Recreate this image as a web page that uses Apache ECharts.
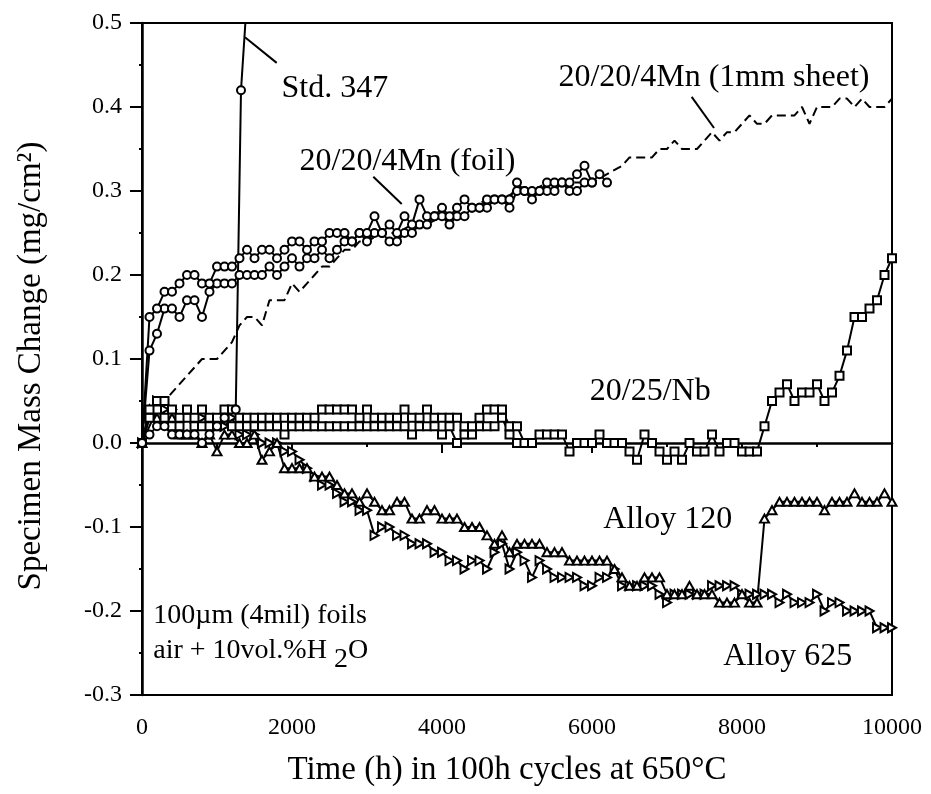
<!DOCTYPE html>
<html><head><meta charset="utf-8">
<script src="https://cdn.jsdelivr.net/npm/echarts@6/dist/echarts.min.js"></script>
<style>html,body{margin:0;padding:0;background:#fff}#c{width:931px;height:794px}</style>
</head><body><div id="c"></div>
<script>
// ---------- DATA ----------
const hours = [0,100,200,300,400,500,600,700,800,900,1000,1100,1200,1300,1400,1500,1600,1700,1800,1900,
2000,2100,2200,2300,2400,2500,2600,2700,2800,2900,3000,3100,3200,3300,3400,3500,3600,3700,3800,3900,
4000,4100,4200,4300,4400,4500,4600,4700,4800,4900,5000,5100,5200,5300,5400,5500,5600,5700,5800,5900,
6000,6100,6200,6300,6400,6500,6600,6700,6800,6900,7000,7100,7200,7300,7400,7500,7600,7700,7800,7900,
8000,8100,8200,8300,8400,8500,8600,8700,8800,8900,9000,9100,9200,9300,9400,9500,9600,9700,9800,9900,10000];

const std347Hours = [0,100,200,300,400,500,600,700,800,900,1000,1100,1250,1320,1400];
const std347 = [0,0.01,0.02,0.02,0.01,0.01,0.01,0.01,0.00,0.01,0.02,0.03,0.04,0.42,0.53];

const foilA = [0,0.15,0.16,0.18,0.18,0.19,0.20,0.20,0.19,0.19,0.21,0.21,0.21,0.22,0.23,0.22,0.23,0.23,0.22,0.23,
0.24,0.24,0.23,0.24,0.24,0.25,0.25,0.25,0.24,0.25,0.25,0.27,0.25,0.26,0.25,0.27,0.26,0.29,0.27,0.27,
0.28,0.27,0.28,0.29,0.28,0.28,0.29,0.29,0.29,0.29,0.31,0.30,0.30,0.30,0.31,0.31,0.31,0.31,0.32,0.33,
0.31,0.32,0.31];
const foilB = [0,0.11,0.13,0.16,0.16,0.15,0.17,0.17,0.15,0.18,0.19,0.19,0.19,0.20,0.20,0.20,0.20,0.21,0.20,0.21,
0.22,0.21,0.22,0.22,0.23,0.22,0.23,0.24,0.24,0.25,0.24,0.25,0.25,0.24,0.24,0.25,0.25,0.26,0.26,0.27,
0.27,0.26,0.27,0.27,0.28,0.28,0.28,0.29,0.29,0.28,0.30,0.30,0.29,0.30,0.30,0.30,0.31,0.30,0.30,0.31,0.31];

const sheetHours = [0,200,300,400,500,600,700,800,900,1000,1100,1200,1300,1400,1500,1600,1700,1800,1900,2000,
2100,2200,2300,2400,2500,2600,2700,2800,2900,3000,3200,3400,3600,3800,4000,4200,4400,4600,4800,5000,
5200,5400,5600,5800,6000,6200,6400,6500,6600,6800,6900,7000,7100,7200,7300,7400,7500,7600,7700,7800,
7900,8000,8100,8200,8300,8400,8500,8600,8700,8800,8900,9000,9100,9200,9300,9400,9500,9600,9700,9800,9900,10000];
const sheet = [0,0.04,0.05,0.06,0.07,0.08,0.09,0.10,0.10,0.10,0.11,0.12,0.14,0.15,0.15,0.14,0.17,0.17,0.17,0.19,
0.18,0.19,0.20,0.21,0.21,0.22,0.23,0.23,0.24,0.24,0.25,0.25,0.26,0.26,0.27,0.27,0.28,0.29,0.29,0.30,
0.30,0.31,0.31,0.31,0.31,0.32,0.33,0.34,0.34,0.34,0.35,0.35,0.36,0.35,0.35,0.35,0.36,0.37,0.36,0.37,
0.37,0.38,0.39,0.38,0.38,0.39,0.39,0.39,0.39,0.40,0.38,0.40,0.40,0.40,0.41,0.41,0.40,0.41,0.40,0.40,0.40,0.41];

const nbA = [0,0.04,0.05,0.05,0.04,0.03,0.04,0.03,0.04,0.03,0.03,0.04,0.04,0.03,0.03,0.03,0.03,0.03,0.03,0.03,
0.03,0.03,0.03,0.03,0.04,0.04,0.04,0.04,0.04,0.03,0.04,0.03,0.03,0.03,0.03,0.04,0.03,0.03,0.04,0.03,
0.03,0.03,0.03,0.02,0.02,0.03,0.04,0.04,0.04,0.02,0.02,0.00,0.00,0.01,0.01,0.01,0.01,-0.01,0.00,0.00,
0.00,0.01,0.00,0.00,0.00,-0.01,-0.02,0.01,0.00,-0.01,-0.02,-0.01,-0.02,0.00,-0.01,-0.01,0.01,-0.01,0.00,0.00,
-0.01,-0.01,-0.01,0.02,0.05,0.06,0.07,0.05,0.06,0.06,0.07,0.05,0.06,0.08,0.11,0.15,0.15,0.16,0.17,0.20,0.22];
const nbB = [0,0.03,0.04,0.03,0.02,0.02,0.03,0.02,0.02,0.02,0.02,0.03,0.02,0.02,0.02,0.02,0.02,0.02,0.02,0.01,
0.02,0.02,0.02,0.02,0.02,0.02,0.02,0.02,0.02,0.02,0.02,0.02,0.02,0.02,0.02,0.02,0.01,0.02,0.02,0.02,
0.01,0.02,0.00,0.01,0.01,0.02,0.02,0.02,0.03,0.01,0.00];

const alloy120 = [0,0.04,0.03,0.03,0.03,0.01,0.01,0.01,0.00,0.01,-0.01,0.01,0.01,0.00,0.00,0.01,-0.02,-0.01,0.00,-0.03,
-0.03,-0.03,-0.03,-0.04,-0.04,-0.04,-0.05,-0.06,-0.06,-0.07,-0.06,-0.07,-0.08,-0.08,-0.07,-0.07,-0.09,-0.09,-0.08,-0.08,
-0.09,-0.09,-0.09,-0.10,-0.10,-0.10,-0.11,-0.12,-0.11,-0.13,-0.12,-0.12,-0.12,-0.12,-0.13,-0.13,-0.13,-0.14,-0.14,-0.14,
-0.14,-0.14,-0.14,-0.15,-0.16,-0.17,-0.17,-0.16,-0.16,-0.16,-0.18,-0.18,-0.18,-0.17,-0.18,-0.18,-0.18,-0.19,-0.19,-0.19,
-0.18,-0.19,-0.19,-0.09,-0.08,-0.07,-0.07,-0.07,-0.07,-0.07,-0.07,-0.08,-0.07,-0.07,-0.07,-0.06,-0.07,-0.07,-0.07,-0.06,-0.07];

const alloy625 = [0,0.03,0.05,0.04,0.04,0.03,0.03,0.03,0.03,0.03,0.02,0.02,0.03,0.01,0.01,0.01,0.00,0.00,0.00,-0.01,
-0.01,-0.02,-0.03,-0.04,-0.05,-0.05,-0.06,-0.07,-0.07,-0.08,-0.08,-0.11,-0.10,-0.10,-0.11,-0.11,-0.12,-0.12,-0.12,-0.13,
-0.13,-0.14,-0.14,-0.15,-0.14,-0.14,-0.15,-0.13,-0.12,-0.15,-0.13,-0.14,-0.16,-0.14,-0.15,-0.16,-0.16,-0.16,-0.16,-0.17,
-0.17,-0.16,-0.16,-0.15,-0.17,-0.17,-0.17,-0.17,-0.17,-0.18,-0.19,-0.18,-0.18,-0.18,-0.18,-0.18,-0.17,-0.17,-0.17,-0.17,
-0.18,-0.18,-0.18,-0.18,-0.18,-0.19,-0.18,-0.19,-0.19,-0.19,-0.18,-0.20,-0.19,-0.19,-0.20,-0.20,-0.20,-0.20,-0.22,-0.22,-0.22];

const xTicks = [0,2000,4000,6000,8000,10000];
const yTicks = [-0.3,-0.2,-0.1,0.0,0.1,0.2,0.3,0.4,0.5];

// annotation texts, anchored in data space
const labels = [
  {text:'Std. 347', x:1860, y:0.422, align:'left'},
  {text:'20/20/4Mn (foil)', x:2100, y:0.335, align:'left'},
  {text:'20/20/4Mn (1mm sheet)', x:9700, y:0.435, align:'right'},
  {text:'20/25/Nb', x:5970, y:0.061, align:'left'},
  {text:'Alloy 120', x:6150, y:-0.091, align:'left'},
  {text:'Alloy 625', x:7750, y:-0.254, align:'left'}
];
const leaders = [
  [[1373,0.483],[1796,0.4525]],
  [[3084,0.317],[3463,0.2845]],
  [[7329,0.412],[7627,0.375]]
];
const noteLines = [
  {x:150, y:-0.205},
  {x:150, y:-0.25}
];

// ---------- CHART ----------
const FONT = '"Liberation Serif","Times New Roman",serif';
const chart = echarts.init(document.getElementById('c'), null, {renderer:'canvas'});
const pair = (xs, ys) => ys.map((v,i)=>[xs[i], v]);
const RTRI = 'path://M0,0 L10,5 L0,10 Z';
function mk(name, data, symbol, size, extra){
  return Object.assign({
    name, type:'line', data, symbol, symbolSize:size, showAllSymbol:true, silent:true,
    symbolKeepAspect:true,
    itemStyle:{color:'#fff', borderColor:'#000', borderWidth:2},
    lineStyle:{color:'#000', width:2}, emphasis:{disabled:true}, z:3
  }, extra||{});
}
const series = [
  mk('20/20/4Mn (1mm sheet)', pair(sheetHours, sheet), 'none', 0, {lineStyle:{color:'#000', width:2, type:[9,5]}}),
  mk('Alloy 625', pair(hours, alloy625), RTRI, [8,9]),
  mk('Alloy 120', pair(hours, alloy120), 'triangle', [9,8]),
  mk('20/25/Nb B', pair(hours, nbB), 'rect', 8),
  mk('20/25/Nb', pair(hours, nbA), 'rect', 8),
  mk('Std. 347', pair(std347Hours, std347), 'circle', 8),
  mk('20/20/4Mn (foil) B', pair(hours, foilB), 'circle', 8),
  mk('20/20/4Mn (foil)', pair(hours, foilA), 'circle', 8)
];
leaders.forEach((l,i)=>series.push({type:'line', data:l, symbol:'none', silent:true,
  lineStyle:{color:'#000', width:2}, z:4}));

chart.setOption({
  animation:false,
  grid:{left:142, top:23, right:39, bottom:99, show:true, borderColor:'#000', borderWidth:2},
  xAxis:{type:'value', min:xTicks[0], max:xTicks[xTicks.length-1], interval:2000,
    axisLine:{lineStyle:{color:'#000', width:2.5}},
    axisTick:{length:10, lineStyle:{color:'#000', width:2}},
    minorTick:{show:true, splitNumber:2, length:4, lineStyle:{color:'#000', width:2}},
    splitLine:{show:false},
    axisLabel:{color:'#000', fontFamily:FONT, fontSize:24, margin:21, formatter:v=>String(v)},
    name:'Time (h) in 100h cycles at 650°C', nameLocation:'middle', nameGap:59,
    nameTextStyle:{color:'#000', fontFamily:FONT, fontSize:33, padding:[0,20,0,0]}
  },
  yAxis:{type:'value', min:yTicks[0], max:yTicks[yTicks.length-1], interval:0.1,
    axisLine:{lineStyle:{color:'#000', width:2.5}},
    axisTick:{length:12, lineStyle:{color:'#000', width:2}},
    minorTick:{show:true, splitNumber:2, length:3, lineStyle:{color:'#000', width:2}},
    splitLine:{show:false},
    axisLabel:{color:'#000', fontFamily:FONT, fontSize:24, margin:20, formatter:v=>v.toFixed(1)},
    name:'Specimen Mass Change (mg/cm²)', nameLocation:'middle', nameGap:94, nameRotate:90,
    nameTextStyle:{color:'#000', fontFamily:FONT, fontSize:33, padding:[0,14,0,0]}
  },
  series
});

const g = [];
labels.forEach(l=>{
  const p = chart.convertToPixel({gridIndex:0},[l.x,l.y]);
  g.push({type:'text', x:p[0], y:p[1], silent:true,
    style:{text:l.text, fontFamily:FONT, fontSize:32, fill:'#000', align:l.align, verticalAlign:'middle'}});
});
const n1 = chart.convertToPixel({gridIndex:0},[noteLines[0].x,noteLines[0].y]);
const n2 = chart.convertToPixel({gridIndex:0},[noteLines[1].x,noteLines[1].y]);
g.push({type:'text', x:n1[0], y:n1[1], silent:true,
  style:{text:'100µm (4mil) foils', fontFamily:FONT, fontSize:28, fill:'#000', align:'left', verticalAlign:'middle'}});
g.push({type:'text', x:n2[0], y:n2[1], silent:true,
  style:{text:'{n|air + 10vol.%H }{s|2}{n|O}', fontFamily:FONT, fontSize:28, fill:'#000', align:'left', verticalAlign:'middle',
    rich:{n:{fontFamily:FONT, fontSize:28, fill:'#000', verticalAlign:'top', lineHeight:32},
          s:{fontFamily:FONT, fontSize:28, fill:'#000', verticalAlign:'top', lineHeight:32, padding:[9,0,0,0]}}}});
chart.setOption({graphic:g});
</script></body></html>
